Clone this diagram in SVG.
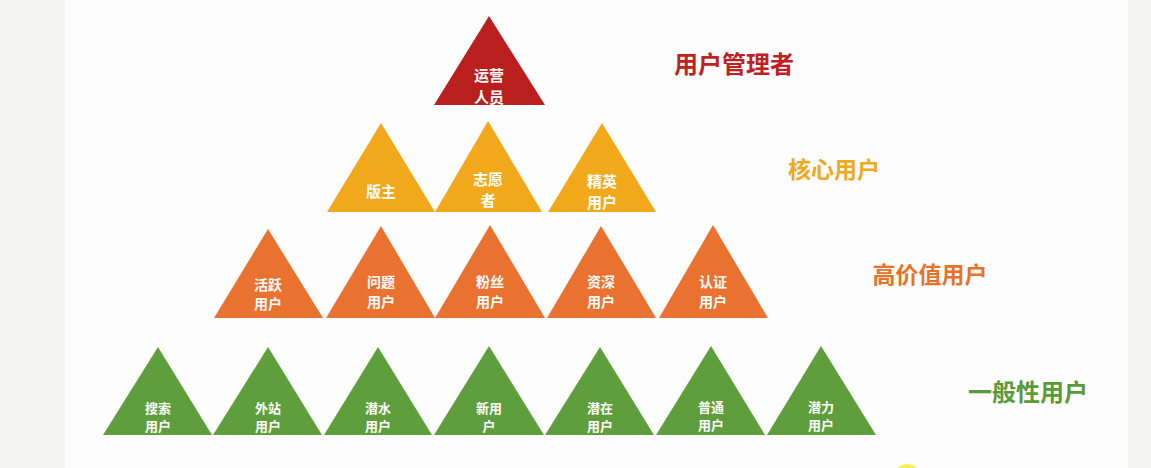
<svg xmlns="http://www.w3.org/2000/svg" width="1151" height="468" viewBox="0 0 1151 468">
<style>
.t{font-family:"Noto Sans CJK SC","Noto Sans",sans-serif;font-weight:700;fill:#fff;text-anchor:middle;dominant-baseline:central}
.s{font-size:13px}
.lbl{font-family:"Noto Sans CJK SC","Noto Sans",sans-serif;font-weight:700;text-anchor:middle;dominant-baseline:central}
.red{fill:#b91f1d}.yel{fill:#f1a81a}.org{fill:#ea7230}.grn{fill:#5f9e3c}
</style>
<rect x="0" y="0" width="1151" height="468" fill="#fdfdfd"/>
<rect x="0" y="0" width="65" height="468" fill="#f4f5f3"/>
<rect x="1128" y="0" width="23" height="468" fill="#f3f4f2"/>
<circle cx="907" cy="478" r="14" fill="#f4ee48" opacity="0.9"/>
<g id="connectors"/>
<g id="n-yunying"><polygon class="red" points="489,16 545,105 434,105"/><text class="t" font-size="15" x="489" y="74">运营</text><text class="t" font-size="15" x="489" y="96">人员</text></g>
<g id="l-guanli"><text class="lbl" font-size="24" fill="#c0211f" x="734" y="62">用户管理者</text></g>

<g id="n-banzhu"><polygon class="yel" points="381,123 435,212 327,212"/><text class="t" font-size="15" x="381" y="190">版主</text></g>
<g id="n-zhiyuan"><polygon class="yel" points="488,121 542,212 435,212"/><text class="t" font-size="15" x="488" y="178">志愿</text><text class="t" font-size="15" x="488" y="199">者</text></g>
<g id="n-jingying"><polygon class="yel" points="602,123 656,212 548,212"/><text class="t" font-size="15" x="602" y="180">精英</text><text class="t" font-size="15" x="602" y="201">用户</text></g>
<g id="l-hexin"><text class="lbl" font-size="23" fill="#f0a81c" x="834" y="168">核心用户</text></g>

<g id="n-huoyue"><polygon class="org" points="268,229 323,318 214,318"/><text class="t" font-size="14" x="268" y="284">活跃</text><text class="t" font-size="14" x="268" y="303">用户</text></g>
<g id="n-wenti"><polygon class="org" points="381,226 435,318 326,318"/><text class="t" font-size="14" x="381" y="281">问题</text><text class="t" font-size="14" x="381" y="301">用户</text></g>
<g id="n-fensi"><polygon class="org" points="490,225 545,318 435,318"/><text class="t" font-size="14" x="490" y="281">粉丝</text><text class="t" font-size="14" x="490" y="301">用户</text></g>
<g id="n-zishen"><polygon class="org" points="601,226 656,318 547,318"/><text class="t" font-size="14" x="601" y="281">资深</text><text class="t" font-size="14" x="601" y="301">用户</text></g>
<g id="n-renzheng"><polygon class="org" points="713,225 768,318 659,318"/><text class="t" font-size="14" x="713" y="281">认证</text><text class="t" font-size="14" x="713" y="301">用户</text></g>
<g id="l-gaojiazhi"><text class="lbl" font-size="23" fill="#e8722a" x="930" y="273">高价值用户</text></g>

<g id="n-sousuo"><polygon class="grn" points="158,347 212,435 103,435"/><text class="t s" x="158" y="407">搜索</text><text class="t s" x="158" y="425">用户</text></g>
<g id="n-waizhan"><polygon class="grn" points="268,347 322,435 213,435"/><text class="t s" x="268" y="407">外站</text><text class="t s" x="268" y="425">用户</text></g>
<g id="n-qianshui"><polygon class="grn" points="378,347 432,435 324,435"/><text class="t s" x="378" y="407">潜水</text><text class="t s" x="378" y="425">用户</text></g>
<g id="n-xin"><polygon class="grn" points="489,346 544,435 434,435"/><text class="t s" x="489" y="407">新用</text><text class="t s" x="489" y="425">户</text></g>
<g id="n-qianzai"><polygon class="grn" points="600,347 654,435 545,435"/><text class="t s" x="600" y="407">潜在</text><text class="t s" x="600" y="425">用户</text></g>
<g id="n-putong"><polygon class="grn" points="711,346 765,435 656,435"/><text class="t s" x="711" y="406">普通</text><text class="t s" x="711" y="424">用户</text></g>
<g id="n-qianli"><polygon class="grn" points="821,346 876,435 767,435"/><text class="t s" x="821" y="406">潜力</text><text class="t s" x="821" y="424">用户</text></g>
<g id="l-yiban"><text class="lbl" font-size="24" fill="#5a9a38" x="1028" y="390">一般性用户</text></g>
</svg>
